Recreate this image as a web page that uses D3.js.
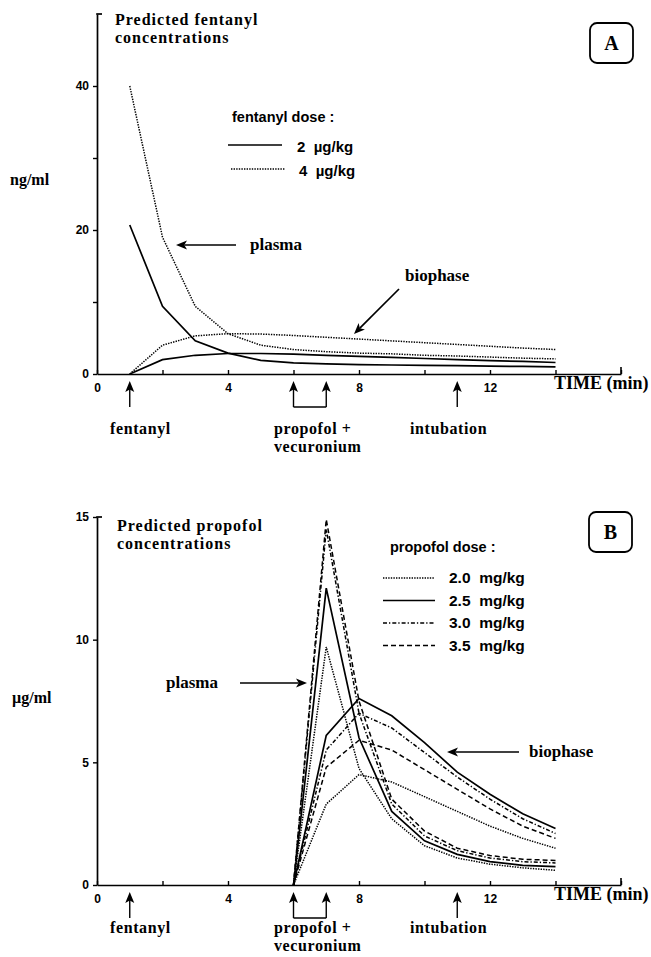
<!DOCTYPE html>
<html>
<head>
<meta charset="utf-8">
<script src="https://cdn.jsdelivr.net/npm/d3@7"></script>
<style>
  body { margin: 0; background: #fff; }
  svg { display: block; }
  .serif { font-family: "Liberation Serif", "Times New Roman", serif; font-weight: bold; }
  .sans { font-family: "Liberation Sans", Arial, sans-serif; font-weight: bold; }
</style>
</head>
<body>
<svg id="chart" width="651" height="957"></svg>
<script>
// ---- data ----
const fentTime = [1, 2, 3, 4, 5, 6, 7, 8, 9, 10, 11, 12, 13, 14];
const fent2Plasma = [20.7, 9.4, 4.6, 2.9, 1.9, 1.55, 1.4, 1.3, 1.25, 1.2, 1.15, 1.1, 1.05, 1.0];
const fent4Plasma = [40, 19, 9.4, 5.6, 4.0, 3.4, 3.1, 2.9, 2.8, 2.6, 2.5, 2.35, 2.2, 2.1];
const fent2Bio = [0, 2.0, 2.6, 2.85, 2.85, 2.75, 2.6, 2.45, 2.3, 2.15, 2.0, 1.85, 1.75, 1.6];
const fent4Bio = [0, 4.0, 5.3, 5.6, 5.55, 5.35, 5.1, 4.85, 4.6, 4.35, 4.1, 3.85, 3.6, 3.4];

const propTime = [6, 7, 8, 9, 10, 11, 12, 13, 14];
const prop20Plasma = [0, 9.7, 4.75, 2.7, 1.6, 1.1, 0.85, 0.7, 0.6];
const prop25Plasma = [0, 12.1, 6.0, 3.0, 1.8, 1.25, 0.95, 0.8, 0.75];
const prop30Plasma = [0, 14.5, 7.0, 3.3, 2.0, 1.4, 1.1, 0.95, 0.9];
const prop35Plasma = [0, 14.9, 7.5, 3.5, 2.2, 1.5, 1.2, 1.05, 1.0];
const prop20Bio = [0, 3.3, 4.5, 4.2, 3.6, 3.0, 2.4, 1.9, 1.5];
const prop25Bio = [0, 6.1, 7.6, 6.9, 5.8, 4.6, 3.7, 2.9, 2.3];
const prop30Bio = [0, 5.5, 7.0, 6.4, 5.4, 4.4, 3.5, 2.7, 2.1];
const prop35Bio = [0, 4.8, 5.9, 5.5, 4.7, 3.9, 3.1, 2.4, 1.9];

const fentDoses = ["2  \u00b5g/kg", "4  \u00b5g/kg"];
const propDoses = ["2.0  mg/kg", "2.5  mg/kg", "3.0  mg/kg", "3.5  mg/kg"];

const xTicks = [0, 2, 4, 6, 8, 10, 12, 14, 16];
const xLabels = [0, 4, 8, 12];
const yTicksA = [0, 10, 20, 30, 40];
const yLabelsA = [0, 20, 40];
const yTicksB = [0, 5, 10, 15];

const eventTimes = [1, 6, 7, 11];

const svg = d3.select("#chart");

const x = d3.scaleLinear().domain([0, 16]).range([97, 621]);
const yA = d3.scaleLinear().domain([0, 50]).range([374, 14]);
const yB = d3.scaleLinear().domain([0, 15]).range([885, 517]);

// line styles
const DOT = "1.4,1.2";
const DASHDOT = "4,2,1.3,2";
const DASH = "5,3";

function drawAxes(g, y, yTicks, yLabels, yTop) {
    const y0 = y(0);
    // x axis, ticks pointing up
    const xa = g.append("g")
        .attr("transform", "translate(0," + y0 + ")")
        .call(d3.axisBottom(x).tickValues(xTicks).tickSize(-4).tickSizeOuter(0)
            .tickPadding(9)
            .tickFormat(d => xLabels.includes(d) ? d : ""));
    xa.select(".domain").attr("stroke-width", 1.7);
    xa.selectAll(".tick line").attr("stroke-width", 1.4);
    xa.selectAll(".tick text").attr("class", "sans").attr("font-size", 12).attr("fill", "#000");
    g.append("line")
        .attr("x1", x(16)).attr("x2", x(16))
        .attr("y1", y0).attr("y2", y0 - 7)
        .attr("stroke", "#000").attr("stroke-width", 1.6);

    // y axis
    const ya = g.append("g")
        .attr("transform", "translate(" + x(0) + ",0)")
        .call(d3.axisLeft(y).tickValues(yTicks).tickSize(4).tickSizeOuter(0)
            .tickPadding(4)
            .tickFormat(d => yLabels.includes(d) ? d : ""));
    ya.select(".domain").attr("stroke-width", 1.7);
    ya.selectAll(".tick line").attr("stroke-width", 1.4);
    ya.selectAll(".tick text").attr("class", "sans").attr("font-size", 12).attr("fill", "#000");
    // bracket at top
    g.append("line")
        .attr("x1", x(0) - 0.8).attr("x2", x(0) + 5)
        .attr("y1", yTop).attr("y2", yTop)
        .attr("stroke", "#000").attr("stroke-width", 1.7);

    g.append("text")
        .attr("class", "serif")
        .attr("x", 554).attr("y", y0 + 15)
        .attr("font-size", 18)
        .text("TIME (min)");
}

function drawEvents(g, y0, labelY) {
    const tipY = y0 + 7, baseY = y0 + 33;
    eventTimes.forEach(t => {
        const cx = x(t);
        g.append("line")
            .attr("x1", cx).attr("x2", cx)
            .attr("y1", tipY + 8).attr("y2", baseY)
            .attr("stroke", "#000").attr("stroke-width", 1.4);
        g.append("path")
            .attr("d", `M${cx},${tipY} L${cx - 4.5},${tipY + 11} L${cx},${tipY + 8.5} L${cx + 4.5},${tipY + 11} Z`)
            .attr("fill", "#000");
    });
    // bracket joining propofol and vecuronium arrows
    g.append("line")
        .attr("x1", x(6)).attr("x2", x(7))
        .attr("y1", baseY).attr("y2", baseY)
        .attr("stroke", "#000").attr("stroke-width", 1.4);

    const lab = (tx, ty, s) => g.append("text").attr("class", "serif")
        .attr("font-size", 16).attr("letter-spacing", 0.6)
        .attr("x", tx).attr("y", ty).text(s);
    lab(110, labelY, "fentanyl");
    lab(274, labelY, "propofol  +");
    lab(274, labelY + 18, "vecuronium");
    lab(410, labelY, "intubation");
}

function arrowHead(g, x1, y1, x2, y2) {
    // filled head at (x2, y2)
    const a = Math.atan2(y2 - y1, x2 - x1);
    const L = 11, W = 4.5;
    const bx = x2 - L * Math.cos(a), by = y2 - L * Math.sin(a);
    const nx = -Math.sin(a), ny = Math.cos(a);
    const ix = x2 - 0.75 * L * Math.cos(a), iy = y2 - 0.75 * L * Math.sin(a);
    g.append("line")
        .attr("x1", x1).attr("y1", y1).attr("x2", ix).attr("y2", iy)
        .attr("stroke", "#000").attr("stroke-width", 1.7);
    g.append("path")
        .attr("d", `M${x2},${y2} L${bx + W * nx},${by + W * ny} L${ix},${iy} L${bx - W * nx},${by - W * ny} Z`)
        .attr("fill", "#000");
}

function labelBox(g, bx, by, letter) {
    g.append("rect")
        .attr("x", bx).attr("y", by).attr("width", 43).attr("height", 40)
        .attr("rx", 7).attr("fill", "none")
        .attr("stroke", "#000").attr("stroke-width", 1.8);
    g.append("text").attr("class", "serif")
        .attr("x", bx + 21.5).attr("y", by + 27)
        .attr("text-anchor", "middle").attr("font-size", 20)
        .text(letter);
}

function curve(g, times, values, y, dash, width) {
    const line = d3.line().x((d, i) => x(times[i])).y(d => y(d));
    g.append("path")
        .datum(values)
        .attr("d", line)
        .attr("fill", "none")
        .attr("stroke", "#000")
        .attr("stroke-width", width)
        .attr("stroke-dasharray", dash);
}

function title(g, tx, ty, lines) {
    lines.forEach((s, i) => g.append("text").attr("class", "serif")
        .attr("font-size", 16).attr("letter-spacing", 1)
        .attr("x", tx).attr("y", ty + i * 18).text(s));
}

// ================= Panel A =================
const gA = svg.append("g");
drawAxes(gA, yA, yTicksA, yLabelsA, yA(50));
drawEvents(gA, yA(0), 434);
labelBox(gA, 590, 23, "A");

title(gA, 115, 25, ["Predicted fentanyl", "concentrations"]);
gA.append("text").attr("class", "serif").attr("font-size", 16)
    .attr("x", 10).attr("y", 185).text("ng/ml");

curve(gA, fentTime, fent4Plasma, yA, DOT, 1.5);
curve(gA, fentTime, fent4Bio, yA, DOT, 1.5);
curve(gA, fentTime, fent2Plasma, yA, null, 1.7);
curve(gA, fentTime, fent2Bio, yA, null, 1.7);

// legend A
gA.append("text").attr("class", "sans").attr("font-size", 14.5)
    .attr("x", 232).attr("y", 122).text("fentanyl dose :");
const fentStyles = [null, DOT];
fentDoses.forEach((d, i) => {
    const ly = 145 + i * 24;
    gA.append("line")
        .attr("x1", 228 + i * 3).attr("x2", 282 + i * 3)
        .attr("y1", ly).attr("y2", ly)
        .attr("stroke", "#000").attr("stroke-width", i ? 1.5 : 1.7)
        .attr("stroke-dasharray", fentStyles[i]);
    gA.append("text").attr("class", "sans").attr("font-size", 15)
        .attr("x", 297 + i * 2).attr("y", ly + 7)
        .attr("xml:space", "preserve").style("white-space", "pre").text(d);
});

// annotations A
gA.append("text").attr("class", "serif").attr("font-size", 17)
    .attr("x", 250).attr("y", 250).text("plasma");
arrowHead(gA, 236, 245, 176, 245);
gA.append("text").attr("class", "serif").attr("font-size", 17)
    .attr("x", 405).attr("y", 281).text("biophase");
arrowHead(gA, 399, 289, 354, 334);

// ================= Panel B =================
const gB = svg.append("g");
drawAxes(gB, yB, yTicksB, yTicksB, yB(15));
drawEvents(gB, yB(0), 933);
labelBox(gB, 589, 512, "B");

title(gB, 117, 531, ["Predicted propofol", "concentrations"]);
gB.append("text").attr("class", "serif").attr("font-size", 16)
    .attr("x", 12).attr("y", 703).text("\u00b5g/ml");

const propPlasma = [prop20Plasma, prop25Plasma, prop30Plasma, prop35Plasma];
const propBio = [prop20Bio, prop25Bio, prop30Bio, prop35Bio];
const propStyles = [DOT, null, DASHDOT, DASH];
propPlasma.forEach((s, i) => curve(gB, propTime, s, yB, propStyles[i], i === 1 ? 1.7 : 1.5));
propBio.forEach((s, i) => curve(gB, propTime, s, yB, propStyles[i], i === 1 ? 1.7 : 1.5));

// legend B
gB.append("text").attr("class", "sans").attr("font-size", 14.5)
    .attr("x", 390).attr("y", 552).text("propofol dose :");
propDoses.forEach((d, i) => {
    const ly = 578 + i * 22.5;
    gB.append("line")
        .attr("x1", 383).attr("x2", 435)
        .attr("y1", ly).attr("y2", ly)
        .attr("stroke", "#000").attr("stroke-width", i === 1 ? 1.7 : 1.5)
        .attr("stroke-dasharray", propStyles[i]);
    gB.append("text").attr("class", "sans").attr("font-size", 15.5)
        .attr("x", 449).attr("y", ly + 5)
        .attr("xml:space", "preserve").style("white-space", "pre").text(d);
});

// annotations B
gB.append("text").attr("class", "serif").attr("font-size", 17)
    .attr("x", 166).attr("y", 688).text("plasma");
arrowHead(gB, 240, 683, 307, 683);
gB.append("text").attr("class", "serif").attr("font-size", 17)
    .attr("x", 529).attr("y", 757).text("biophase");
arrowHead(gB, 519, 752, 447, 752);
</script>
</body>
</html>
